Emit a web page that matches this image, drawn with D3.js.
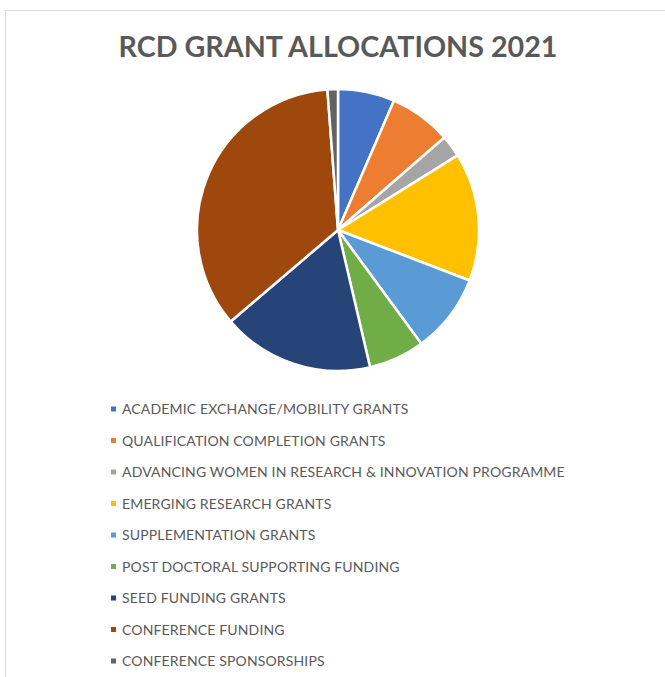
<!DOCTYPE html>
<html>
<head>
<meta charset="utf-8">
<script src="https://cdn.jsdelivr.net/npm/d3@7"></script>
<style>
  html, body { margin: 0; padding: 0; background: #ffffff; }
  svg { display: block; }
</style>
</head>
<body>
<svg id="chart"></svg>
<script>
// grant categories, in the order Excel draws them (clockwise from 12 o'clock)
const categories = [
  'ACADEMIC EXCHANGE/MOBILITY GRANTS',
  'QUALIFICATION COMPLETION GRANTS',
  'ADVANCING WOMEN IN RESEARCH & INNOVATION PROGRAMME',
  'EMERGING RESEARCH GRANTS',
  'SUPPLEMENTATION GRANTS',
  'POST DOCTORAL SUPPORTING FUNDING',
  'SEED FUNDING GRANTS',
  'CONFERENCE FUNDING',
  'CONFERENCE SPONSORSHIPS',
];

// share of the total (%)
const values = [6.5, 7.1, 2.5, 14.7, 9.1, 6.4, 17.4, 35.0, 1.2];

const colors = [
  '#4472C4', '#ED7D31', '#A5A5A5', '#FFC000', '#5B9BD5',
  '#70AD47', '#264478', '#9E480E', '#636363',
];

const title = 'RCD GRANT ALLOCATIONS 2021';

const width = 665;
const height = 677;
const cx = 338;
const cy = 230;
const radius = 141;
const textColor = '#595959';

const svg = d3.select('#chart')
  .attr('width', width)
  .attr('height', height);

// chart area frame (only the top and left edges are in view)
svg.append('rect')
  .attr('x', 5.5)
  .attr('y', 10.5)
  .attr('width', width + 10)
  .attr('height', height + 10)
  .attr('fill', '#ffffff')
  .attr('stroke', '#d9d9d9')
  .attr('stroke-width', 1);

const titleText = svg.append('text')
  .attr('x', cx)
  .attr('y', 57)
  .attr('text-anchor', 'middle')
  .style('font-family', 'Lato, "Open Sans", sans-serif')
  .style('font-weight', 700)
  .style('font-size', '29px')
  .style('fill', textColor)
  .text(title);

// squeeze the title to the width it takes in the picture
titleText.attr('textLength', 439).attr('lengthAdjust', 'spacingAndGlyphs');

const pie = d3.pie().sort(null).value((d) => d);
const arc = d3.arc().innerRadius(0).outerRadius(radius);

svg.append('g')
  .attr('transform', `translate(${cx}, ${cy})`)
  .selectAll('path')
  .data(pie(values))
  .join('path')
  .attr('d', arc)
  .attr('fill', (d, i) => colors[i])
  .attr('stroke', '#ffffff')
  .attr('stroke-width', 2.5)
  .attr('stroke-linejoin', 'round');

// legend, one entry per line
const legendY = d3.scalePoint()
  .domain(categories)
  .range([409, 661]);

const legend = svg.append('g')
  .selectAll('g')
  .data(categories)
  .join('g')
  .attr('transform', (d) => `translate(111, ${legendY(d)})`);

legend.append('rect')
  .attr('x', 0)
  .attr('y', -2.5)
  .attr('width', 5)
  .attr('height', 5)
  .attr('fill', (d, i) => colors[i]);

legend.append('text')
  .attr('x', 11)
  .attr('dy', '0.36em')
  .style('font-family', 'Lato, "Open Sans", sans-serif')
  .style('font-size', '14px')
  .style('letter-spacing', '0.15px')
  .style('fill', textColor)
  .text((d) => d);
</script>
</body>
</html>
